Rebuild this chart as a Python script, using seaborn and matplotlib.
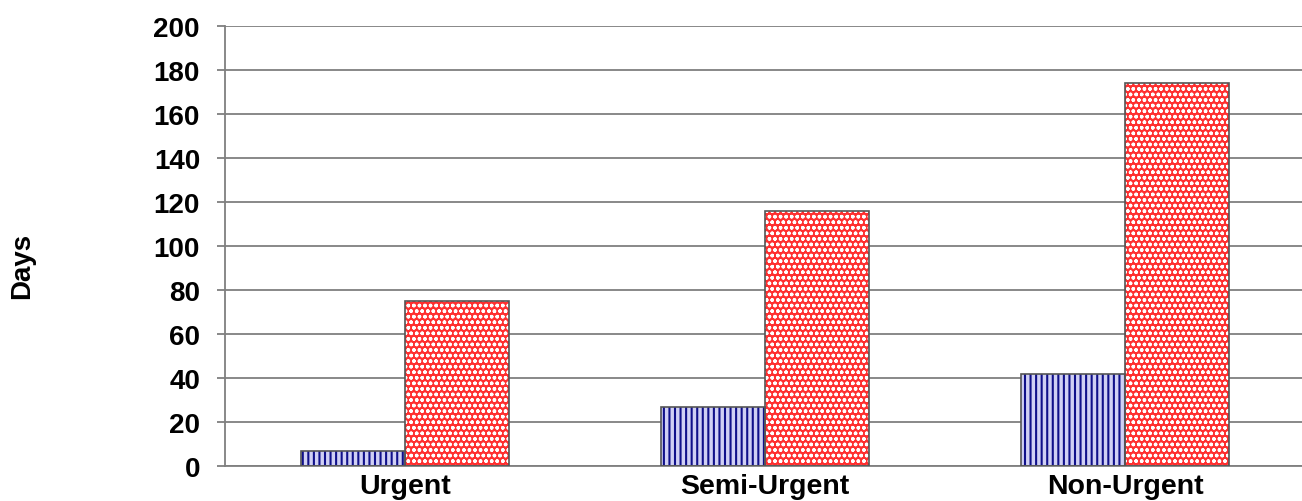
import numpy as np
import pandas as pd
import seaborn as sns
import matplotlib.pyplot as plt
from matplotlib.patches import Rectangle

# ############### Data ###############
categories = ['Urgent', 'Semi-Urgent', 'Non-Urgent']
series_names = ['Series 1', 'Series 2']
series_1 = [7, 27, 42]
series_2 = [75, 116, 174]
y_ticks = [0, 20, 40, 60, 80, 100, 120, 140, 160, 180, 200]

df = pd.DataFrame({
    'category': categories * 2,
    'series': [series_names[0]] * len(categories) + [series_names[1]] * len(categories),
    'days': series_1 + series_2,
})

# ############### Style ###############
sns.set_theme(style='white')
plt.rcParams['font.family'] = ['Liberation Sans', 'DejaVu Sans']
plt.rcParams['hatch.linewidth'] = 1.0
grid_col = '#7f7f7f'

fig = plt.figure(figsize=(13.02, 5.02), dpi=100)
ax = fig.add_axes([225 / 1302, 35 / 502, 1080 / 1302, 440 / 502])

sns.barplot(data=df, x='category', y='days', hue='series', order=categories,
            hue_order=series_names, width=0.58, gap=0, legend=False, ax=ax,
            palette=['#c8c8f0', '#ff3535'], saturation=1, errorbar=None)

# patterns: navy vertical stripes / white dots on red
fills = [('#d0d0f4', '#10108a', '|||', 1.5), ('#ff3030', 'white', 'ooo', 1.0)]
for cont, (fc, hc, hatch, hlw) in zip(ax.containers, fills):
    for bar in cont:
        bar.set_facecolor(fc)
        bar.set_edgecolor(hc)
        bar.set_hatch(hatch)
        if hasattr(bar, 'set_hatch_linewidth'):
            bar.set_hatch_linewidth(hlw)
        bar.set_linewidth(0)
        ax.add_patch(Rectangle(bar.get_xy(), bar.get_width(), bar.get_height(),
                               fill=False, edgecolor='#555555', lw=1.2, zorder=3))

ax.set_ylim(0, 200)
ax.set_xlim(-0.5, 2.5)
ax.set_yticks(y_ticks)
ax.yaxis.grid(True, color=grid_col, lw=1.3)
ax.set_axisbelow(True)

for side in ['top', 'right']:
    ax.spines[side].set_visible(False)
for side in ['left', 'bottom']:
    ax.spines[side].set_color(grid_col)
    ax.spines[side].set_linewidth(1.3)

# category separators below the axis
ax.set_xticks(np.arange(-0.5, len(categories)), minor=True)
ax.tick_params(axis='x', which='minor', length=27, direction='out', color=grid_col, width=1.3)
ax.tick_params(axis='x', which='major', length=0, pad=5)
ax.tick_params(axis='y', length=6, direction='out', color=grid_col, width=1.3, pad=12, left=True)

for lab in ax.get_xticklabels():
    lab.set_fontweight('bold')
    lab.set_fontsize(20.5)
    lab.set_color('black')
for lab in ax.get_yticklabels():
    lab.set_fontweight('bold')
    lab.set_fontsize(20)
    lab.set_color('black')

ax.set_xlabel('')
ax.set_ylabel('Days', fontsize=20, fontweight='bold', color='black')
ax.yaxis.set_label_coords(-0.176, 0.457)

fig.savefig('out.png', dpi=100)
